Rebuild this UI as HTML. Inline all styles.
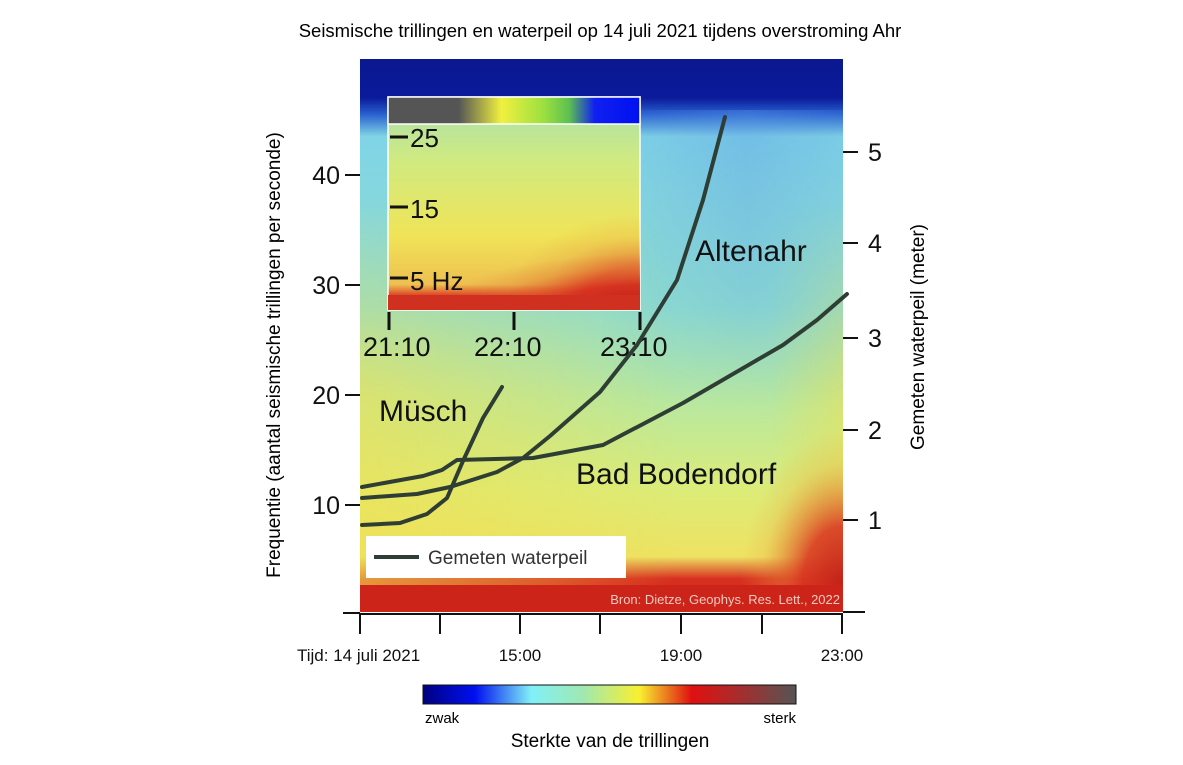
<!DOCTYPE html>
<html><head><meta charset="utf-8"><style>
body{margin:0;background:#fff;width:1183px;height:760px;overflow:hidden;font-family:"Liberation Sans",sans-serif}
</style></head><body>
<svg width="1183" height="760" viewBox="0 0 1183 760" xmlns="http://www.w3.org/2000/svg" font-family="Liberation Sans, sans-serif">
<defs>
<linearGradient id="v" x1="0" y1="0" x2="0" y2="1">
<stop offset="0" stop-color="#0a1890"/><stop offset="0.07" stop-color="#0a1a9a"/>
<stop offset="0.1" stop-color="#2a60d0"/><stop offset="0.14" stop-color="#80d4e6"/>
<stop offset="0.45" stop-color="#8edcd0"/><stop offset="0.62" stop-color="#b8e8a0"/>
<stop offset="0.78" stop-color="#dcec78"/><stop offset="0.9" stop-color="#eee262"/>
<stop offset="0.94" stop-color="#d83020"/><stop offset="1" stop-color="#c82018"/>
</linearGradient>
<linearGradient id="fadeV" x1="0" y1="0" x2="0" y2="1">
<stop offset="0" stop-color="#fff" stop-opacity="0"/><stop offset="0.5" stop-color="#fff" stop-opacity="1"/><stop offset="1" stop-color="#fff" stop-opacity="1"/>
</linearGradient>
<linearGradient id="fadeH" x1="0" y1="0" x2="1" y2="0">
<stop offset="0" stop-color="#fff" stop-opacity="1"/><stop offset="0.45" stop-color="#fff" stop-opacity="0.5"/><stop offset="0.75" stop-color="#fff" stop-opacity="0"/>
</linearGradient>
<mask id="mY"><rect x="360" y="200" width="483" height="390" fill="url(#fadeV)"/></mask>
<linearGradient id="h" x1="0" y1="0" x2="1" y2="0">
<stop offset="0" stop-color="#f0e050" stop-opacity="0.6"/><stop offset="0.4" stop-color="#f0e050" stop-opacity="0.25"/>
<stop offset="0.65" stop-color="#f0e050" stop-opacity="0"/><stop offset="0.85" stop-color="#f0e050" stop-opacity="0"/><stop offset="1" stop-color="#f0e050" stop-opacity="0.5"/>
</linearGradient>
<linearGradient id="bV" x1="0" y1="0" x2="0" y2="1">
<stop offset="0" stop-color="#fff" stop-opacity="1"/><stop offset="0.6" stop-color="#fff" stop-opacity="0.5"/><stop offset="1" stop-color="#fff" stop-opacity="0"/>
</linearGradient>
<mask id="mB"><rect x="360" y="110" width="483" height="300" fill="url(#bV)"/></mask>
<linearGradient id="b" x1="0" y1="0" x2="1" y2="0">
<stop offset="0" stop-color="#5a9ae6" stop-opacity="0"/><stop offset="0.5" stop-color="#5a9ae6" stop-opacity="0"/><stop offset="0.8" stop-color="#5a9ae6" stop-opacity="0.4"/><stop offset="1" stop-color="#5a9ae6" stop-opacity="0.15"/>
</linearGradient>
<radialGradient id="rr" cx="1" cy="1" r="1">
<stop offset="0" stop-color="#c02018"/><stop offset="0.4" stop-color="#d83020" stop-opacity="0.85"/><stop offset="0.8" stop-color="#e8a040" stop-opacity="0.2"/><stop offset="1" stop-color="#e8a040" stop-opacity="0"/>
</radialGradient>
<linearGradient id="ic" x1="0" y1="0" x2="1" y2="0">
<stop offset="0" stop-color="#555"/><stop offset="0.28" stop-color="#555"/><stop offset="0.45" stop-color="#f0f040"/><stop offset="0.62" stop-color="#9ae040"/><stop offset="0.72" stop-color="#5cbf50"/><stop offset="0.82" stop-color="#1020f0"/><stop offset="1" stop-color="#0010f0"/>
</linearGradient>
<linearGradient id="iv" x1="0" y1="0" x2="0" y2="1">
<stop offset="0" stop-color="#a8e0b0"/><stop offset="0.3" stop-color="#d0ea80"/><stop offset="0.65" stop-color="#f0e458"/><stop offset="0.88" stop-color="#eec050"/><stop offset="0.94" stop-color="#d83020"/><stop offset="1" stop-color="#c82018"/>
</linearGradient>
<radialGradient id="ir" cx="1" cy="1" r="0.8">
<stop offset="0" stop-color="#c02018"/><stop offset="0.45" stop-color="#d83020" stop-opacity="0.9"/><stop offset="0.75" stop-color="#e07030" stop-opacity="0.3"/><stop offset="1" stop-color="#e07030" stop-opacity="0"/>
</radialGradient>
<linearGradient id="cb" x1="0" y1="0" x2="1" y2="0">
<stop offset="0" stop-color="#000080"/><stop offset="0.14" stop-color="#0010f0"/><stop offset="0.29" stop-color="#80f0f8"/><stop offset="0.43" stop-color="#a0e8b0"/><stop offset="0.58" stop-color="#f8f030"/><stop offset="0.72" stop-color="#e01010"/><stop offset="0.86" stop-color="#a03030"/><stop offset="1" stop-color="#555"/>
</linearGradient>
</defs>
<text x="600" y="37" font-size="18.5" text-anchor="middle">Seismische trillingen en waterpeil op 14 juli 2021 tijdens overstroming Ahr</text>
<rect x="360" y="59" width="483" height="553" fill="url(#v)"/>
<rect x="360" y="200" width="483" height="390" fill="url(#h)" mask="url(#mY)"/>
<rect x="360" y="110" width="483" height="300" fill="url(#b)" mask="url(#mB)"/>
<rect x="740" y="430" width="103" height="160" fill="url(#rr)"/>
<rect x="360" y="585" width="483" height="27" fill="#cc2418"/>
<text x="840" y="604" font-size="13" fill="#f0c8c0" text-anchor="end">Bron: Dietze, Geophys. Res. Lett., 2022</text>
<!-- inset -->
<rect x="388" y="97" width="252" height="213" fill="url(#iv)" stroke="#fff" stroke-width="1.5"/>
<rect x="388" y="240" width="252" height="70" fill="url(#ir)"/>
<rect x="470" y="190" width="170" height="120" fill="url(#ir)" opacity="0.55"/>
<rect x="388" y="295" width="252" height="15" fill="#d03020"/>
<rect x="388" y="97" width="252" height="27" fill="url(#ic)" stroke="#fff" stroke-width="1.5"/>
<g stroke="#111" stroke-width="3"><line x1="390" y1="137" x2="408" y2="137"/><line x1="390" y1="207" x2="408" y2="207"/><line x1="390" y1="278" x2="408" y2="278"/>
<line x1="389" y1="312" x2="389" y2="330"/><line x1="514" y1="312" x2="514" y2="330"/><line x1="640" y1="312" x2="640" y2="330"/></g>
<g font-size="26" fill="#111"><text x="410" y="147">25</text><text x="410" y="218">15</text><text x="410" y="290">5 Hz</text>
<text x="363" y="356" font-size="27">21:10</text><text x="474" y="356" font-size="27">22:10</text><text x="600" y="356" font-size="27">23:10</text></g>
<!-- curves -->
<g fill="none" stroke="#2e3e34" stroke-width="4" stroke-linecap="round" stroke-linejoin="round">
<polyline points="362,525 400,523 427,514 447,498 463,461 483,418 502,387"/>
<polyline points="362,498 417,494 450,487 497,472 523,458 550,436 600,392 637,345 677,280 703,200 725,117"/>
<polyline points="362,487 423,476 442,470 457,460 533,458 603,445 683,403 783,345 817,320 847,294"/>
</g>
<g font-size="30" fill="#111"><text x="379" y="421">Müsch</text><text x="695" y="261">Altenahr</text><text x="576" y="484">Bad Bodendorf</text></g>
<rect x="366" y="536" width="260" height="42" fill="#fff"/>
<line x1="374" y1="557" x2="419" y2="557" stroke="#2e3e34" stroke-width="4"/>
<text x="428" y="564" font-size="19" fill="#333">Gemeten waterpeil</text>
<!-- axes -->
<g stroke="#111" stroke-width="2">
<line x1="360" y1="614" x2="843" y2="614"/>
<line x1="343" y1="613" x2="360" y2="613"/>
<line x1="843" y1="612" x2="865" y2="612"/>
<line x1="345" y1="175" x2="360" y2="175"/><line x1="345" y1="285" x2="360" y2="285"/><line x1="345" y1="395" x2="360" y2="395"/><line x1="345" y1="505" x2="360" y2="505"/>
<line x1="843" y1="152" x2="858" y2="152"/><line x1="843" y1="243" x2="858" y2="243"/><line x1="843" y1="338" x2="858" y2="338"/><line x1="843" y1="430" x2="858" y2="430"/><line x1="843" y1="520" x2="858" y2="520"/>
<line x1="360" y1="614" x2="360" y2="634"/><line x1="440" y1="614" x2="440" y2="634"/><line x1="520" y1="614" x2="520" y2="634"/><line x1="600" y1="614" x2="600" y2="634"/><line x1="681" y1="614" x2="681" y2="634"/><line x1="762" y1="614" x2="762" y2="634"/><line x1="842" y1="614" x2="842" y2="634"/>
</g>
<g font-size="25" fill="#111" text-anchor="end"><text x="340" y="184">40</text><text x="340" y="294">30</text><text x="340" y="404">20</text><text x="340" y="514">10</text></g>
<g font-size="25" fill="#111"><text x="868" y="161">5</text><text x="868" y="252">4</text><text x="868" y="347">3</text><text x="868" y="439">2</text><text x="868" y="529">1</text></g>
<text transform="translate(280,355) rotate(-90)" font-size="19" text-anchor="middle">Frequentie (aantal seismische trillingen per seconde)</text>
<text transform="translate(924,337) rotate(-90)" font-size="19" text-anchor="middle">Gemeten waterpeil (meter)</text>
<g font-size="17" fill="#111"><text x="297" y="661">Tijd: 14 juli 2021</text><text x="520" y="661" text-anchor="middle">15:00</text><text x="681" y="661" text-anchor="middle">19:00</text><text x="842" y="661" text-anchor="middle">23:00</text></g>
<rect x="423" y="685" width="373" height="19" fill="url(#cb)" stroke="#111"/>
<text x="425" y="723" font-size="15">zwak</text><text x="796" y="723" font-size="15" text-anchor="end">sterk</text>
<text x="610" y="747" font-size="19" text-anchor="middle">Sterkte van de trillingen</text>
</svg>
</body></html>
